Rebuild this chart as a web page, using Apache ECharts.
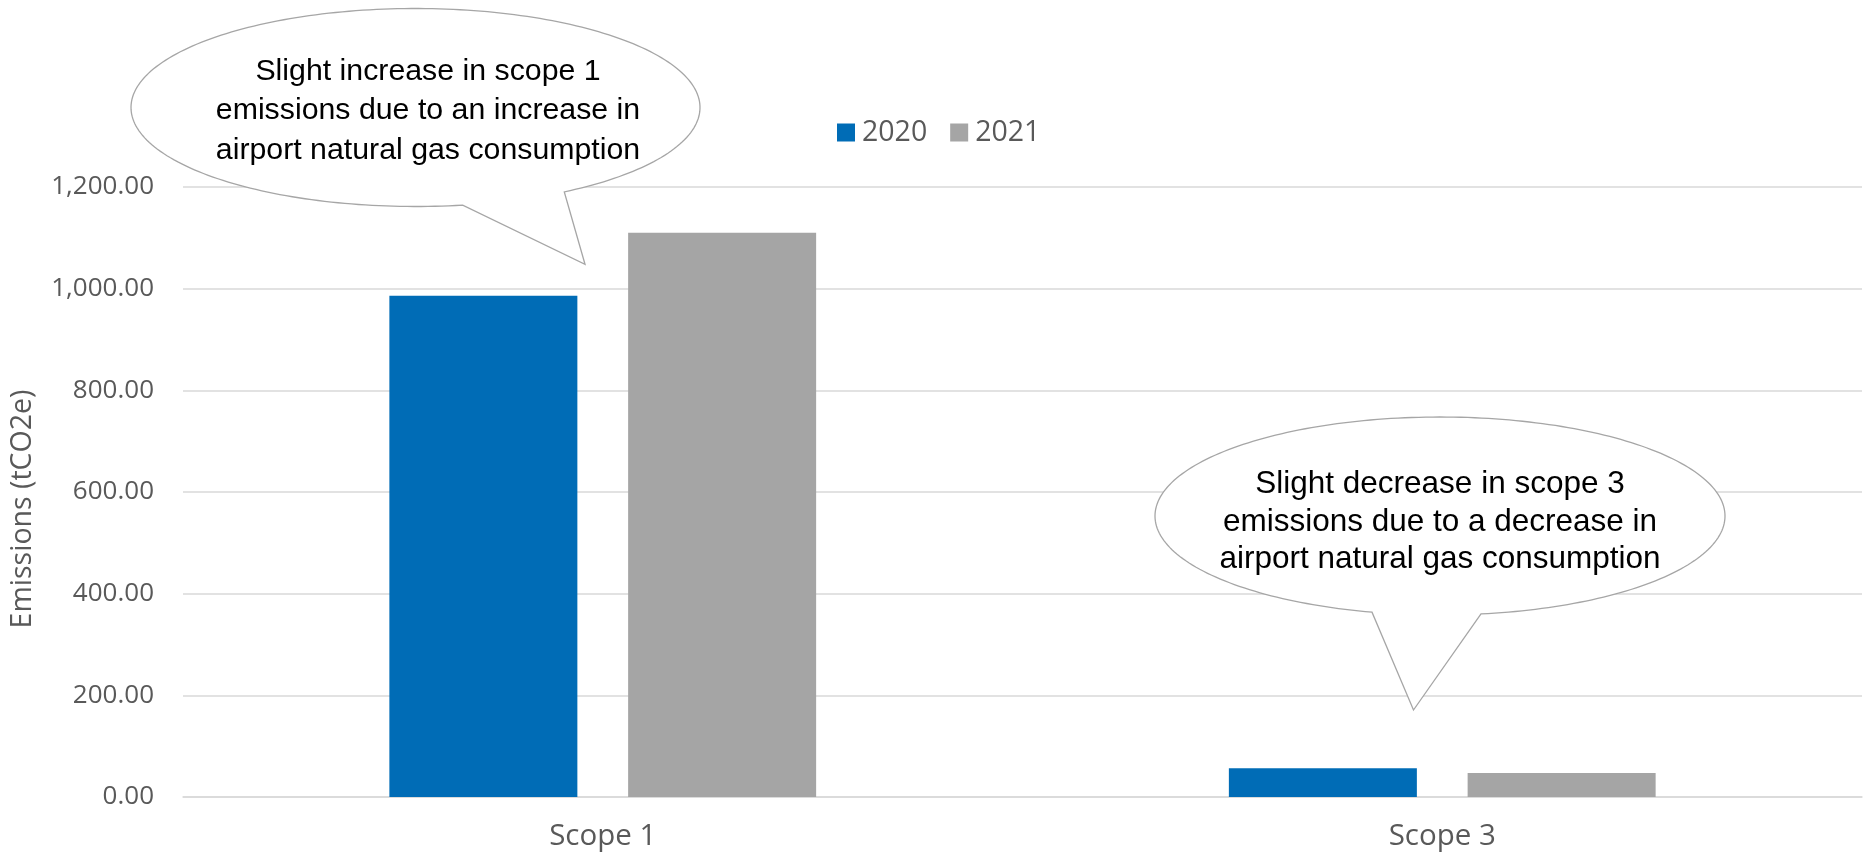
<!DOCTYPE html>
<html>
<head>
<meta charset="utf-8">
<script src="https://cdn.jsdelivr.net/npm/echarts@6/dist/echarts.min.js"></script>
<style>
  html, body { margin: 0; padding: 0; background: #fff; }
  #chart { width: 1867px; height: 853px; }
</style>
</head>
<body>
<div id="chart"></div>
<script>
// ---- data ----
const categories = ['Scope 1', 'Scope 3'];
const seriesNames = ['2020', '2021'];
const values2020 = [986, 56.5];
const values2021 = [1110, 47];
const yMin = 0, yMax = 1200, yInterval = 200;
const yAxisName = 'Emissions (tCO2e)';
const callout1Lines = ['Slight increase in scope 1', 'emissions due to an increase in', 'airport natural gas consumption'];
const callout2Lines = ['Slight decrease in scope 3', 'emissions due to a decrease in', 'airport natural gas consumption'];

// ---- callout shapes (annotation layout, pixel space) ----
function bubblePoints(cx, cy, rx, ry, xa, xb, tip) {
  const ta = Math.atan2(Math.sqrt(Math.max(0, 1 - Math.pow((xa - cx) / rx, 2))), (xa - cx) / rx);
  const tb = Math.atan2(Math.sqrt(Math.max(0, 1 - Math.pow((xb - cx) / rx, 2))), (xb - cx) / rx);
  const pts = [tip];
  const start = tb;
  const endAngle = ta - 2 * Math.PI;
  const n = 240;
  for (let i = 0; i <= n; i++) {
    const t = start + (endAngle - start) * i / n;
    pts.push([cx + rx * Math.cos(t), cy + ry * Math.sin(t)]);
  }
  return pts;
}

const fontFam = '"Open Sans", "DejaVu Sans", sans-serif';
const calloutFont = '"Liberation Sans", Arial, sans-serif';

function callout(cx, cy, rx, ry, xa, xb, tip, lines, tx, ty, fs, lh) {
  return [
    {
      type: 'polygon',
      z: 100,
      shape: { points: bubblePoints(cx, cy, rx, ry, xa, xb, tip) },
      style: { fill: '#ffffff', stroke: '#A6A6A6', lineWidth: 1.3 }
    },
    {
      type: 'text',
      z: 101,
      x: tx, y: ty,
      style: {
        text: lines.join('\n'),
        fill: '#000000',
        font: fs + 'px ' + calloutFont,
        align: 'center',
        verticalAlign: 'middle',
        lineHeight: lh
      }
    }
  ];
}

const chart = echarts.init(document.getElementById('chart'));
const option = {
  backgroundColor: '#ffffff',
  animation: false,
  legend: {
    data: seriesNames,
    left: 832,
    top: 113,
    icon: 'rect',
    itemWidth: 18,
    itemHeight: 18,
    itemGap: 23,
    textStyle: { fontSize: 28.5, color: '#595959', fontFamily: fontFam, padding: [0, 0, 0, 2] }
  },
  grid: { left: 182, right: 5, top: 187, bottom: 56, containLabel: false },
  xAxis: {
    type: 'category',
    data: categories,
    axisTick: { show: false },
    axisLine: { lineStyle: { color: '#D9D9D9', width: 1.5 } },
    axisLabel: { fontSize: 29.5, color: '#595959', fontFamily: fontFam, margin: 25 }
  },
  yAxis: {
    type: 'value',
    min: yMin, max: yMax, interval: yInterval,
    name: yAxisName,
    nameLocation: 'middle',
    nameGap: 146,
    nameTextStyle: { fontSize: 28.5, color: '#595959', fontFamily: fontFam, padding: [0, 34, 0, 0] },
    axisLine: { show: false },
    axisTick: { show: false },
    splitLine: { lineStyle: { color: '#D9D9D9', width: 1.5 } },
    axisLabel: {
      fontSize: 26, color: '#595959', fontFamily: fontFam, margin: 29,
      formatter: v => v.toLocaleString('en-US', { minimumFractionDigits: 2, maximumFractionDigits: 2 })
    }
  },
  series: [
    { name: seriesNames[0], type: 'bar', data: values2020, barWidth: 188, barGap: '27%',
      itemStyle: { color: '#006CB6' } },
    { name: seriesNames[1], type: 'bar', data: values2021, barWidth: 188, barGap: '27%',
      itemStyle: { color: '#A5A5A5' } }
  ],
  graphic: [].concat(
    callout(415.5, 107.5, 284.5, 99, 462.7, 564.3, [585, 264.3], callout1Lines, 428, 111, 30.3, 39.5),
    callout(1440, 516, 285, 99, 1372, 1481, [1413.5, 710], callout2Lines, 1440, 522, 31.5, 37.5)
  )
};
chart.setOption(option);
</script>
</body>
</html>
